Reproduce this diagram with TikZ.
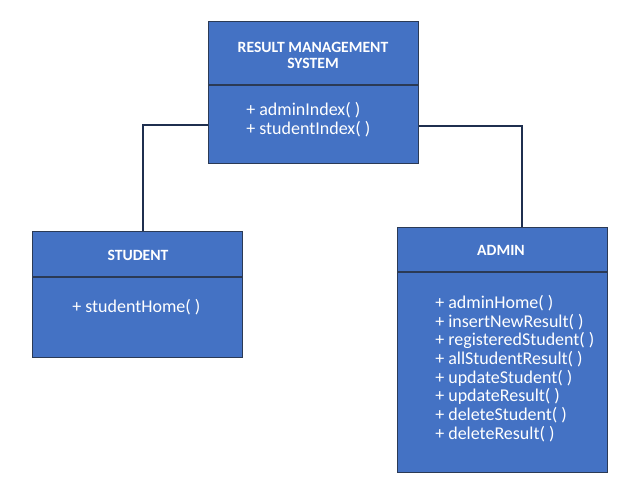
\documentclass[tikz,border=0pt]{standalone}
\usepackage{fontspec}
\setmainfont{Carlito}
\usepackage{tikz}
\definecolor{boxblue}{HTML}{4472C4}
\definecolor{boxedge}{HTML}{2B3A55}
\definecolor{linknavy}{HTML}{1F2F4F}
\tikzset{
  font={\fontsize{13.5pt}{14pt}\selectfont}}

\begin{document}
\begin{tikzpicture}[x=0.75pt,y=-0.75pt]
\tikzstyle{umlbox}=[draw=boxedge,fill=boxblue,line width=0.9pt,anchor=north west,inner sep=0pt,minimum width=157.5pt]
\tikzstyle{title}=[text=white,font={\fontsize{11.75pt}{12pt}\selectfont\bfseries},align=center]
\tikzstyle{member}=[text=white,align=left,anchor=north west,inner sep=0pt]
\tikzstyle{link}=[draw=linknavy,line width=1.5pt]
\useasboundingbox (0,0) rectangle (641,493);
% boxes
\node [umlbox,minimum height=106.5pt] (rms) at (208,21) {};
\node [umlbox,minimum height=94.5pt] (student) at (32,231) {};
\node [umlbox,minimum height=183.75pt] (admin) at (397,227) {};
% compartments
\draw [boxedge,line width=0.9pt] (rms.west |- 0,85) -- (rms.east |- 0,85);
\draw [boxedge,line width=0.9pt] (student.west |- 0,277) -- (student.east |- 0,277);
\draw [boxedge,line width=0.9pt] (admin.west |- 0,272) -- (admin.east |- 0,272);
\node [title] (rmsname) at (313,55) {RESULT MANAGEMENT\\SYSTEM};
\node [title] (studentname) at (138,255) {STUDENT};
\node [title] (adminname) at (501,250) {ADMIN};
\node [member] (rmsops) at (246,102) {+ adminIndex( )\\+ studentIndex( )};
\node [member] (studentops) at (72,299) {+ studentHome( )};
\node [member] (adminops) at (435,295) {+ adminHome( )\\+ insertNewResult( )\\+ registeredStudent( )\\+ allStudentResult( )\\+ updateStudent( )\\+ updateResult( )\\+ deleteStudent( )\\+ deleteResult( )};
% links
\draw [link] ([yshift=-24pt]rms.west) -| ([xshift=4pt]student.north);
\draw [link] ([yshift=-24.75pt]rms.east) -| ([xshift=14.25pt]admin.north);
\end{tikzpicture}
\end{document}
